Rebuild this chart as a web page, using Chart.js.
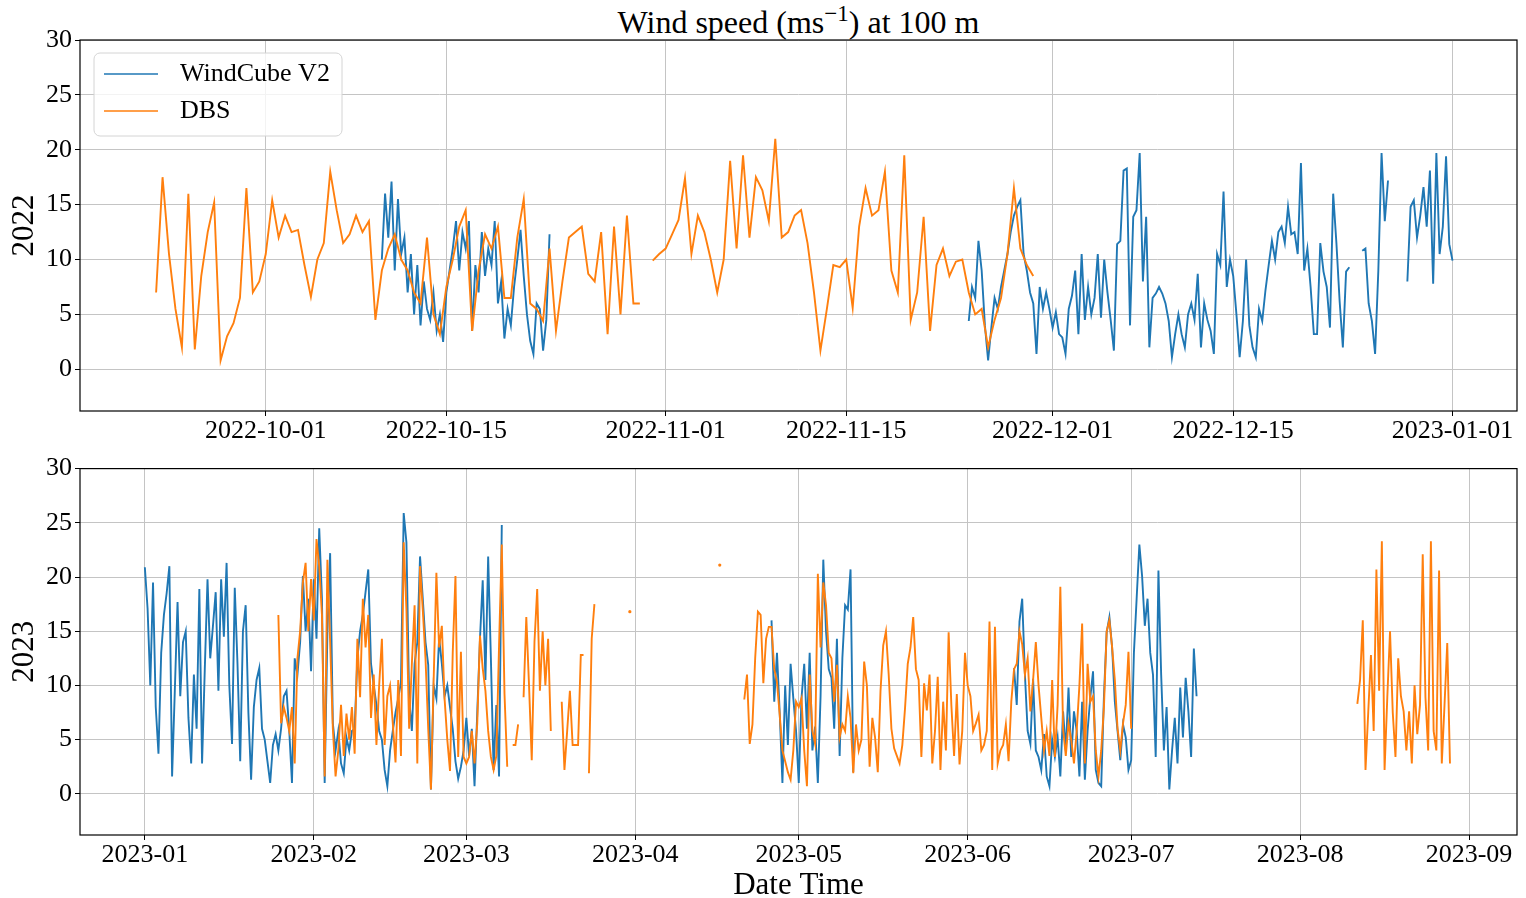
<!DOCTYPE html>
<html>
<head>
<meta charset="utf-8">
<title>Wind speed at 100 m</title>
<script src="https://cdn.jsdelivr.net/npm/chart.js@4.4.1/dist/chart.umd.min.js"></script>
<style>
    html, body { margin: 0; padding: 0; background: #fff; }
    body { width: 1526px; height: 898px; position: relative; overflow: hidden; font-family: 'Liberation Serif', 'Times New Roman', serif; }
    #title { position: absolute; left: 80px; width: 1437px; top: 2px; text-align: center; font-size: 32px; line-height: 40px; color: #000; }
    #title sup { font-size: 0.72em; vertical-align: 0.5em; line-height: 0; }
    canvas { position: absolute; left: 0; }
    #chart2022 { top: 0; }
    #chart2023 { top: 450px; }
</style>
</head>
<body>
<div id="title">Wind speed (ms<sup>−1</sup>) at 100 m</div>
<canvas id="chart2022" width="1526" height="450"></canvas>
<canvas id="chart2023" width="1526" height="448"></canvas>
<script>
// Wind speed at 100 m: WindCube V2 lidar vs DBS, one panel per year

const STEP = 0.5;       // days between samples (default)
const FINE_STEP = 0.25; // WindCube 2022 samples are read at a finer spacing

const speedTicks = [0, 5, 10, 15, 20, 25, 30];

// --------------------------------------------------------------------
// 2022 panel, x = days since 2022-09-01
// --------------------------------------------------------------------
const ticks2022 = [30, 44, 61, 75, 91, 105, 122];
const labels2022 = ['2022-10-01', '2022-10-15', '2022-11-01', '2022-11-15', '2022-12-01', '2022-12-15', '2023-01-01'];

const dbs2022Start = 21.5;
const dbs2022 = [
    7.0, 17.5, 10.5, 5.5, 2.0, 16.0, 1.8, 8.5, 12.5, 15.2,
    0.8, 3.0, 4.2, 6.5, 16.5, 7.0, 8.0, 10.5, 15.4, 12.0,
    14.0, 12.5, 12.7, 9.5, 6.6, 10.0, 11.5, 18.0, 14.5, 11.5,
    12.3, 14.0, 12.5, 13.5, 4.5, 9.0, 11.0, 12.3, 10.0, 9.0,
    7.0, 6.0, 12.0, 5.0, 3.2, 7.5, 10.0, 13.0, 14.5, 3.5,
    9.0, 12.3, 11.0, 13.0, 6.5, 6.5, 12.0, 15.5, 6.0, 5.5,
    4.4, 11.0, 3.5, 8.0, 12.0, 12.5, 13.0, 8.7, 8.0, 12.5,
    3.2, 13.0, 5.0, 14.0, 6.0, 6.0, null, 9.9, 10.5, 11.0,
    12.3, 13.6, 17.4, 10.5, 14.0, 12.5, 10.0, 7.0, 10.0, 19.0,
    11.0, 19.5, 12.0, 17.5, 16.3, 13.5, 21.0, 12.0, 12.5, 14.0,
    14.5, 11.5, 7.0, 1.7, 5.5, 9.5, 9.3, 10.0, 5.6, 13.0,
    16.5, 14.0, 14.5, 18.0, 9.0, 7.0, 19.5, 4.5, 7.0, 13.9,
    3.5, 9.5, 11.0, 8.5, 9.8, 10.0, 7.0, 5.0, 5.5, 2.0,
    4.5, 6.5, 10.5, 16.5, 11.0, 9.5, 8.5
];

const wc2022OctStart = 39;
const wc2022Oct = [
    10.0, 16.0, 12.0, 17.1, 9.0, 15.5, 10.5, 12.0, 7.0, 10.5,
    5.0, 9.5, 4.0, 8.0, 5.5, 4.5, 7.0, 3.5, 5.0, 2.5,
    7.0, 9.0, 11.0, 13.5, 9.0, 12.5, 11.0, 13.5, 3.5, 9.5,
    7.0, 12.5, 8.5, 11.0, 9.5, 13.5, 6.0, 8.0, 2.8, 5.5,
    4.0, 7.5, 10.0, 12.7, 8.5, 5.0, 2.6, 1.4, 6.0, 5.5,
    1.7, 4.5, 12.3
];

const wc2022DecStart = 84.5;
const wc2022Dec = [
    4.4, 7.5, 6.5, 11.7, 9.0, 4.0, 0.8, 3.8, 6.5, 5.5,
    7.5, 9.0, 10.5, 12.5, 14.0, 14.8, 15.4, 10.5, 9.0, 7.0,
    6.0, 1.4, 7.5, 5.5, 7.0, 5.5, 3.8, 5.2, 3.2, 2.9,
    1.4, 5.5, 6.7, 9.0, 3.2, 10.5, 4.5, 7.5, 5.0, 6.5,
    10.5, 4.7, 10.0, 7.0, 4.5, 1.7, 11.4, 11.7, 18.1, 18.3,
    4.0, 13.9, 14.5, 19.7, 8.0, 13.9, 2.0, 6.5, 6.9, 7.5,
    6.9, 6.0, 4.4, 1.1, 3.2, 5.0, 3.2, 2.0, 5.0, 6.0,
    4.5, 8.7, 2.0, 6.0, 4.5, 3.5, 1.4, 10.5, 9.5, 16.2,
    7.5, 10.0, 8.5, 5.0, 1.1, 4.4, 10.0, 4.0, 2.0, 1.1,
    5.5, 4.4, 7.2, 9.5, 11.7, 10.0, 12.5, 13.0, 11.5, 14.8,
    12.3, 12.5, 10.5, 18.8, 9.0, 11.0, 7.5, 3.2, 3.2, 11.5,
    8.9, 7.5, 3.8, 16.0, 11.5, 6.2, 2.0, 8.9, 9.3, null,
    null, null, 10.8, 11.0, 6.0, 4.4, 1.4, 9.0, 19.7, 13.5,
    17.2, null, null, null, null, null, 8.0, 14.8, 15.4, 12.0,
    14.0, 16.6, 13.0, 18.1, 7.8, 19.7, 10.5, 13.0, 19.4, 11.4,
    9.9
];

// --------------------------------------------------------------------
// 2023 panel, x = days since 2023-01-01
// --------------------------------------------------------------------
const ticks2023 = [0, 31, 59, 90, 120, 151, 181, 212, 243];
const labels2023 = ['2023-01', '2023-02', '2023-03', '2023-04', '2023-05', '2023-06', '2023-07', '2023-08', '2023-09'];

const wc2023JanStart = 0;
const wc2023Jan = [
    20.9, 17.1, 10.0, 19.5, 8.0, 3.7, 13.0, 16.5, 18.5, 21.0,
    1.6, 9.5, 17.7, 9.0, 14.0, 15.0, 7.0, 2.8, 11.0, 6.0,
    18.9, 2.8, 11.5, 19.8, 12.5, 15.5, 18.6, 9.5, 19.8, 14.5,
    21.3, 10.0, 4.6, 19.0, 12.0, 3.0, 15.0, 17.4, 7.5, 1.3,
    8.0, 10.5, 11.6, 6.0, 5.0, 3.0, 1.0, 4.5, 5.5, 4.0,
    6.0, 9.0, 9.5, 5.8, 1.0, 12.5, 11.0, 14.0, 20.1, 15.0,
    18.0, 11.3, 19.8, 14.3, 24.5, 18.0, 1.0, 14.9, 22.2, 6.5,
    4.0, 5.8, 2.8, 1.9, 5.2, 4.0, 5.8, 6.0, 12.5, 15.0,
    16.5, 18.6, 20.7, 12.0, 10.0, 8.2, 5.8, 5.0, 2.2, 0.7,
    4.0, 5.8, 7.5, 8.8, 10.3, 25.9, 23.2, 8.8, 5.8, 12.0,
    14.0, 21.9, 18.0, 14.0, 11.9, 0.4, 10.0, 8.8, 14.4, 12.0,
    9.0, 10.0, 8.0, 6.0, 3.0, 1.4, 2.5, 4.0, 7.0, 3.5,
    6.0, 0.7, 7.5, 14.3, 19.7, 10.5, 21.9, 12.5, 2.2, 8.2,
    1.6, 24.8
];

const wc2023MayStart = 115;
const wc2023May = [
    16.0, 8.5, 13.0, 7.5, 1.0, 10.0, 4.5, 12.0, 8.8, 5.8,
    1.0, 8.8, 12.0, 6.0, 13.0, 4.0, 6.2, 1.0, 9.0, 21.6,
    15.0, 11.5, 10.7, 6.0, 14.3, 3.5, 12.5, 17.4, 17.0, 20.7,
    2.0
];

const wc2023JunStart = 159.5;
const wc2023Jun = [
    11.6, 8.2, 15.9, 18.0, 11.0, 5.8, 4.6, 10.6, 4.0, 3.4,
    2.2, 5.5, 1.6, 0.7, 5.0, 3.4, 5.2, 1.6, 7.6, 4.0,
    9.8, 3.4, 7.6, 5.8, 1.6, 8.5, 1.3, 5.8, 8.9, 11.3,
    2.2, 1.0, 0.7, 9.0, 14.9, 16.3, 13.5, 8.5, 5.8, 3.1,
    6.4, 5.2, 2.2, 3.1, 13.0, 18.0, 23.0, 20.1, 15.5, 18.0,
    13.0, 11.0, 3.4, 20.6, 11.0, 4.0, 8.0, 0.4, 4.0, 7.0,
    2.8, 9.8, 5.2, 10.7, 7.6, 3.4, 13.4, 9.0
];

const dbs2023FebStart = 24.5;
const dbs2023Feb = [
    16.5, 6.5, 8.0, 7.0, 5.8, 8.0, 2.8, 12.5, 15.0, 19.5,
    21.3, 15.0, 19.8, 16.0, 23.5, 21.0, 16.5, 1.6, 21.6, 14.0,
    6.0, 1.6, 4.0, 8.2, 3.5, 7.4, 5.0, 8.0, 3.7, 14.3,
    8.9, 18.0, 13.5, 16.5, 7.0, 11.0, 4.5, 10.0, 14.3, 4.5,
    9.0, 10.0, 6.5, 2.9, 10.5, 3.5, 23.2, 17.0, 6.0, 12.0,
    17.4, 2.8, 21.0, 17.0, 12.5, 6.0, 0.4, 10.5, 20.4, 13.5,
    15.5, 8.8, 5.0, 2.1, 13.0, 20.1, 3.4, 13.1, 3.4, 2.8,
    3.4, 5.8, 2.8, 6.5, 14.6, 11.6, 9.5, 5.8, 3.4, 2.2,
    3.5, 13.7, 23.0, 9.2, 2.5, null, 4.5, 4.5, 6.4, null,
    8.9, 16.3, 10.0, 3.1, 14.0, 18.9, 9.5, 15.0, 10.0, 14.3,
    5.8, null, null, null, 8.5, 2.2, 5.8, 9.5, 4.5, 4.5,
    4.5, 12.8, 12.8, null, 1.9, 14.3, 17.5
];

// lone DBS samples in the spring gap
const dbs2023MarDot = [89.0, 16.8];
const dbs2023AprDot = [105.5, 21.1];

const dbs2023AprStart = 110;
const dbs2023Apr = [
    8.7, 11.0, 4.6, 6.4, 12.5, 16.8, 16.5, 10.2, 14.3, 15.4,
    15.4, 11.5, 10.3, 7.3, 4.0, 3.0, 2.0, 1.3, 4.0, 8.5,
    8.0, 8.8, 4.0, 0.7, 11.0, 5.8, 4.6, 20.3, 13.5, 19.5,
    17.4, 13.0, 12.5, 8.5, 11.9, 5.2, 6.4, 5.8, 9.0, 7.0,
    1.9, 6.4, 4.0, 5.0, 12.2, 10.0, 2.5, 7.0, 5.2, 2.0,
    9.5, 13.7, 15.0, 11.0, 6.0, 4.2, 3.5, 2.8, 4.5, 7.9,
    12.0, 13.5, 16.3, 11.5, 10.5, 3.4, 10.2, 7.7, 11.0, 2.8,
    5.8, 10.8, 2.2, 8.5, 4.0, 14.9, 8.2, 3.5, 9.2, 2.7,
    5.8, 13.0, 10.0, 9.0, 5.8, 6.5, 7.3, 4.0, 4.5, 5.8,
    15.9, 2.2, 15.4, 2.8, 4.0, 4.5, 6.4, 3.0, 8.5, 11.5,
    12.0, 15.0, 13.8, 11.0, 12.5, 7.6, 10.5, 14.0, 10.0, 7.0,
    4.0, 5.8, 3.5, 10.5, 3.4, 8.2, 19.1, 6.0, 3.5, 6.5,
    5.0, 2.8, 5.8, 10.0, 15.7, 2.8, 12.0, 8.5, 9.0, 4.0,
    1.6, 4.0, 8.0, 15.0, 16.0, 13.5, 10.5, 6.0, 4.0, 6.5,
    8.2, 13.1, 6.0
];

const dbs2023AugStart = 222.5;
const dbs2023Aug = [
    8.3, 10.5, 16.0, 2.2, 7.5, 12.8, 5.8, 20.7, 9.5, 23.3,
    2.2, 8.9, 15.0, 7.5, 3.4, 12.5, 9.0, 7.6, 4.0, 7.6,
    2.8, 10.0, 5.5, 8.2, 22.1, 8.9, 4.0, 23.3, 5.8, 4.0,
    20.6, 2.8, 8.2, 13.9, 2.8
];

// --------------------------------------------------------------------
// Helpers
// --------------------------------------------------------------------
const colors = {
    wc: '#1f77b4',  // matplotlib blue
    dbs: '#ff7f0e'  // matplotlib orange
};
const serif = "'Liberation Serif', 'Times New Roman', serif";

Chart.defaults.font.family = serif;
Chart.defaults.color = '#000';

// segments -> {x, y} points, a null point between segments breaks the line
function toPoints(segments) {
    const pts = [];
    segments.forEach(([start, vals, step = STEP], k) => {
        if (k > 0) pts.push({ x: start - step / 2, y: null });
        vals.forEach((v, i) => pts.push({ x: start + i * step, y: v }));
    });
    return pts;
}

// show a dot only where a sample has no neighbours to connect to
function loneRadius(ctx) {
    const d = ctx.dataset.data;
    const i = ctx.dataIndex;
    const prev = d[i - 1], next = d[i + 1];
    const alone = (!prev || prev.y === null) && (!next || next.y === null);
    return alone ? 1.6 : 0;
}

function lineSet(label, color, data, order) {
    return {
        label: label,
        data: data,
        borderColor: color,
        backgroundColor: color,
        borderWidth: 1.9,
        pointRadius: loneRadius,
        pointHoverRadius: 0,
        pointBorderWidth: 0,
        spanGaps: false,
        tension: 0,
        fill: false,
        order: order
    };
}

// black frame on all four sides of the plot area
const framePlugin = {
    id: 'frame',
    afterDraw(chart) {
        const { ctx, chartArea: a } = chart;
        ctx.save();
        ctx.strokeStyle = '#000';
        ctx.lineWidth = 1.2;
        ctx.strokeRect(a.left, a.top, a.right - a.left, a.bottom - a.top);
        ctx.restore();
    }
};

// legend box in the upper left corner of the plot area
const insetLegend = {
    id: 'insetLegend',
    afterDraw(chart) {
        const { ctx, chartArea: a } = chart;
        const x = a.left + 14, y = a.top + 13, w = 248, h = 83;
        ctx.save();
        ctx.beginPath();
        ctx.roundRect(x, y, w, h, 6);
        ctx.fillStyle = 'rgba(255, 255, 255, 0.8)';
        ctx.fill();
        ctx.strokeStyle = '#d4d4d4';
        ctx.lineWidth = 1;
        ctx.stroke();
        chart.data.datasets.forEach((ds, i) => {
            const ly = y + 21 + i * 37;
            ctx.strokeStyle = ds.borderColor;
            ctx.lineWidth = 1.5;
            ctx.beginPath();
            ctx.moveTo(x + 10, ly);
            ctx.lineTo(x + 64, ly);
            ctx.stroke();
            ctx.fillStyle = '#000';
            ctx.font = '26px ' + serif;
            ctx.textBaseline = 'middle';
            ctx.fillText(ds.label, x + 86, ly);
        });
        ctx.restore();
    }
};

function panelOptions(cfg) {
    const grid = {
        color: '#c4c4c4',
        lineWidth: 1,
        drawTicks: true,
        tickLength: 5,
        tickColor: '#000'
    };
    return {
        responsive: false,
        animation: false,
        events: [],
        layout: { padding: { top: cfg.padTop, right: 9, left: 0, bottom: 0 } },
        plugins: {
            legend: { display: false },
            tooltip: { enabled: false }
        },
        scales: {
            x: {
                type: 'linear',
                min: cfg.xMin,
                max: cfg.xMax,
                afterBuildTicks: s => { s.ticks = cfg.ticks.map(v => ({ value: v })); },
                afterFit: s => { s.height = cfg.xHeight; },
                border: { display: false },
                grid: grid,
                ticks: {
                    autoSkip: false,
                    maxRotation: 0,
                    padding: 0,
                    font: { size: 26 },
                    callback: (v, i) => cfg.labels[i]
                },
                title: cfg.xTitle
                    ? { display: true, text: cfg.xTitle, font: { size: 31, lineHeight: 0.8 }, padding: { top: 0, bottom: 0 } }
                    : { display: false }
            },
            y: {
                type: 'linear',
                min: -3.8,
                max: 30,
                afterBuildTicks: s => { s.ticks = speedTicks.map(v => ({ value: v })); },
                afterFit: s => { s.width = 80; },
                border: { display: false },
                grid: grid,
                ticks: {
                    padding: 3,
                    font: { size: 26 },
                    callback: v => String(v)
                },
                title: {
                    display: true,
                    text: cfg.yTitle,
                    font: { size: 31 },
                    padding: { top: 6, bottom: 0 }
                }
            }
        }
    };
}

// --------------------------------------------------------------------
// 1. 2022 panel
// --------------------------------------------------------------------
new Chart(document.getElementById('chart2022'), {
    type: 'line',
    data: {
        datasets: [
            lineSet('WindCube V2', colors.wc, toPoints([
                [wc2022OctStart, wc2022Oct, FINE_STEP],
                [wc2022DecStart, wc2022Dec, FINE_STEP]
            ]), 1),
            lineSet('DBS', colors.dbs, toPoints([
                [dbs2022Start, dbs2022]
            ]), 0)
        ]
    },
    options: panelOptions({
        padTop: 40, xHeight: 39, xMin: 15.6, xMax: 127.0,
        ticks: ticks2022, labels: labels2022, yTitle: '2022'
    }),
    plugins: [framePlugin, insetLegend]
});

// --------------------------------------------------------------------
// 2. 2023 panel
// --------------------------------------------------------------------
new Chart(document.getElementById('chart2023'), {
    type: 'line',
    data: {
        datasets: [
            lineSet('WindCube V2', colors.wc, toPoints([
                [wc2023JanStart, wc2023Jan],
                [wc2023MayStart, wc2023May],
                [wc2023JunStart, wc2023Jun]
            ]), 1),
            lineSet('DBS', colors.dbs, toPoints([
                [dbs2023FebStart, dbs2023Feb],
                [dbs2023MarDot[0], [dbs2023MarDot[1]]],
                [dbs2023AprDot[0], [dbs2023AprDot[1]]],
                [dbs2023AprStart, dbs2023Apr],
                [dbs2023AugStart, dbs2023Aug]
            ]), 0)
        ]
    },
    options: panelOptions({
        padTop: 15, xHeight: 63, xMin: -11.9, xMax: 251.8,
        ticks: ticks2023, labels: labels2023, yTitle: '2023', xTitle: 'Date Time'
    }),
    plugins: [framePlugin]
});
</script>
</body>
</html>
